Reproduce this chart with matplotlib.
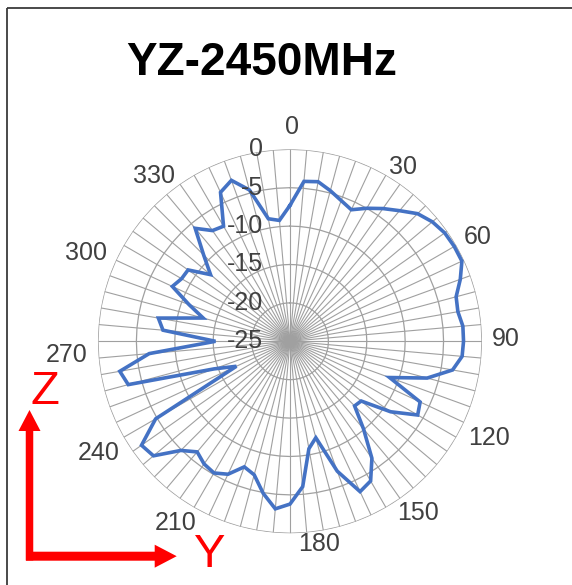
import matplotlib
matplotlib.use("Agg")
import matplotlib.pyplot as plt
import numpy as np
from matplotlib.patches import FancyArrow, Rectangle

plt.rcParams['font.family'] = ['Liberation Sans', 'DejaVu Sans']

# measured pattern, one value every 5 degrees (dB)
angles_deg = list(range(0, 360, 5))
gain_db = [
    -7.3, -4.1, -3.9, -4.7, -5.5, -6.1, -5.0, -3.9, -2.8, -1.5, -0.8, -0.4,   # 0..55
    -0.3, -0.3, -1.4, -2.6, -2.8, -2.4, -2.4, -2.5, -3.5, -6.5, -11.2, -6.3,  # 60..115
    -5.8, -9.0, -12.9, -13.1, -10.1, -6.4, -4.0, -3.4, -7.0, -12.0, -10.8, -6.0,  # 120..175
    -3.8, -3.1, -4.9, -7.0, -7.6, -5.9, -5.2, -5.5, -6.2, -4.9, -1.8, -1.4,   # 180..235
    -4.8, -17.3, -14.5, -3.2, -2.5, -6.6, -15.3, -8.4, -7.6, -13.3, -11.0, -8.1,  # 240..295
    -8.7, -8.8, -11.5, -9.1, -5.8, -7.4, -7.7, -3.6, -2.7, -4.6, -8.8, -9.2,  # 300..355
]

ring_levels = [-25, -20, -15, -10, -5, 0]
angle_ticks = [0, 30, 60, 90, 120, 150, 180, 210, 240, 270, 300, 330]
# pixel offset of each angle label from the end of its spoke (Excel placement)
label_offsets = [(2, 22), (17, 8), (21, 8), (24, 2), (33, -1), (32, -5),
                 (29, -11), (-18, -15), (-25, -16), (-31, -14), (-38, -8), (-40, -1)]

GRID = '#a0a0a0'
TEXT = '#404040'
LINE = '#4472C4'

fig = plt.figure(figsize=(5.72, 5.85), dpi=100)

# decoration layer in pixel coordinates
deco = fig.add_axes([0, 0, 1, 1])
deco.set_xlim(0, 572)
deco.set_ylim(585, 0)
deco.axis('off')
deco.add_patch(Rectangle((7, 8), 700, 700, fill=False, edgecolor='#3a3a3a', lw=1.3))
deco.add_patch(FancyArrow(29.5, 560.5, 0, -150.5, width=7.5, head_width=22, head_length=21,
                          length_includes_head=True, color='red', lw=0))
deco.add_patch(FancyArrow(26, 556.2, 150.7, 0, width=9, head_width=23, head_length=22,
                          length_includes_head=True, color='red', lw=0))
deco.text(45, 403.5, 'Z', color='red', fontsize=34, ha='center', va='baseline')
deco.text(210, 567, 'Y', color='red', fontsize=34, ha='center', va='baseline')

fig.text(262 / 572, 1 - 75 / 585, 'YZ-2450MHz', fontsize=33, fontweight='bold',
         ha='center', va='baseline', color='black')

ax = fig.add_axes([0.1713, 0.0884, 0.6713, 0.6564], projection='polar')
ax.patch.set_alpha(0)
ax.set_theta_zero_location('N')
ax.set_theta_direction(-1)
ax.set_ylim(-25, 0)
ax.grid(False)
ax.set_xticks([])
ax.set_yticks([])
ax.spines['polar'].set_visible(False)

theta = np.deg2rad(angles_deg)
ax.vlines(theta, -25, 0, colors=GRID, lw=0.8, zorder=1)
ring_theta = np.deg2rad(angles_deg + [360])
for lev in ring_levels[1:]:
    ax.plot(ring_theta, [lev] * len(ring_theta), color=GRID, lw=0.9, zorder=1)

ln, = ax.plot(np.deg2rad(angles_deg + [360]), gain_db + [gain_db[0]],
              color=LINE, lw=2.6, zorder=3, solid_joinstyle='miter')
ln.get_path()._interpolation_steps = 1

for lev in ring_levels:
    ax.annotate(str(lev), xy=(0, lev), xytext=(-27, 0), textcoords='offset pixels',
                ha='right', va='center', fontsize=18, color=TEXT, zorder=4)

for a, (dx, dy) in zip(angle_ticks, label_offsets):
    ax.annotate(str(a), xy=(np.deg2rad(a), 0), xytext=(dx, dy), textcoords='offset pixels',
                ha='center', va='center', fontsize=18, color=TEXT, annotation_clip=False)

fig.savefig('out.png', dpi=100)
